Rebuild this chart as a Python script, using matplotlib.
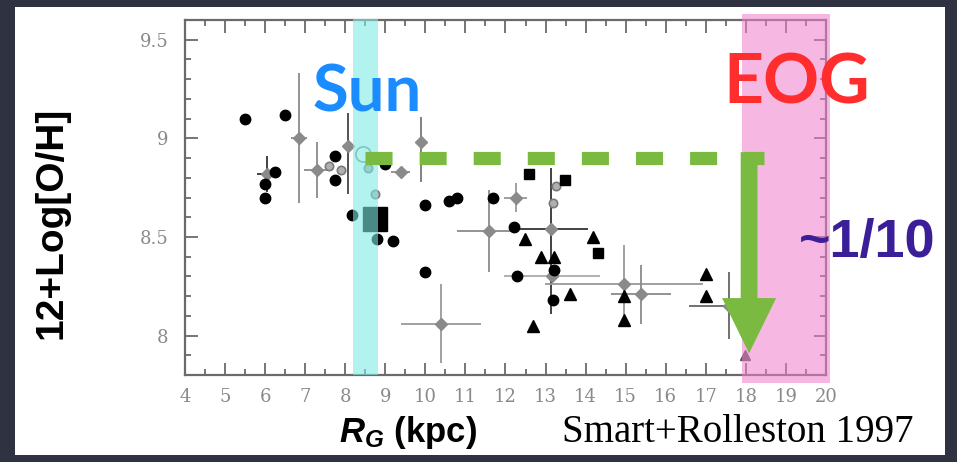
import matplotlib
matplotlib.use('Agg')
import numpy as np
from matplotlib import pyplot as plt
from matplotlib.patches import Rectangle

# galactocentric radius (kpc) and 12+log(O/H)
circ_x = [5.5, 6.5, 6.25, 6.0, 6.0, 7.75, 7.75, 8.18, 9.0, 9.2, 8.8, 10.0, 10.58, 10.78,
          10.0, 11.7, 12.2, 13.2, 12.28, 13.18]
circ_y = [9.10, 9.12, 8.83, 8.77, 8.70, 8.91, 8.79, 8.61, 8.87, 8.48, 8.49, 8.66, 8.68, 8.70,
          8.32, 8.70, 8.55, 8.33, 8.30, 8.18]

sq_x = [12.58, 13.48, 14.3]
sq_y = [8.82, 8.79, 8.42]
big_sq_x = [8.75]
big_sq_y = [8.59]

tri_x = [12.48, 14.18, 12.88, 13.2, 13.6, 12.68, 14.95, 14.95, 17.0, 17.0, 17.98]
tri_y = [8.49, 8.50, 8.40, 8.40, 8.21, 8.05, 8.20, 8.08, 8.31, 8.20, 7.90]

# points with error bars
eb_x = [6.85, 7.3, 6.05, 8.08, 9.38, 9.88, 12.25, 11.58, 13.13, 13.17, 14.95, 15.38, 17.58, 10.38]
eb_y = [9.00, 8.84, 8.82, 8.96, 8.83, 8.98, 8.70, 8.53, 8.54, 8.30, 8.26, 8.21, 8.15, 8.06]
eb_xlo = [0.2, 0.33, 0.25, 0.0, 0.23, 0.0, 0.29, 0.8, 0.93, 1.2, 1.97, 0.75, 1.0, 1.0]
eb_xhi = [0.2, 0.33, 0.25, 0.0, 0.23, 0.0, 0.29, 0.6, 0.93, 1.2, 1.97, 0.75, 0.4, 1.0]
eb_ylo = [0.33, 0.14, 0.09, 0.24, 0.0, 0.2, 0.075, 0.21, 0.43, 0.0, 0.2, 0.15, 0.17, 0.2]
eb_yhi = [0.33, 0.14, 0.09, 0.17, 0.0, 0.13, 0.075, 0.21, 0.31, 0.0, 0.2, 0.15, 0.17, 0.2]
eb_col = ['#8a8a8a', '#8a8a8a', '#333333', '#444444', '#8a8a8a', '#777777', '#999999',
          '#8a8a8a', '#333333', '#aaaaaa', '#999999', '#8a8a8a', '#666666', '#999999']

open_x = [7.6, 7.9, 8.58, 8.75, 13.25, 13.18]
open_y = [8.86, 8.84, 8.85, 8.72, 8.76, 8.67]

sun_band = (8.2, 8.82)
eog_band = (17.9, 20.1)
solar_oh = 8.9
eog_oh = 7.91

xticks = list(range(4, 21))
yticks = [8, 8.5, 9, 9.5]
ytick_labels = ['8', '8.5', '9', '9.5']

plt.rcParams['mathtext.fontset'] = 'custom'
plt.rcParams['mathtext.it'] = 'Liberation Sans:italic:bold'
plt.rcParams['mathtext.rm'] = 'Liberation Sans:bold'

fig = plt.figure(figsize=(9.57, 4.62), dpi=100)
fig.patch.set_facecolor('#2f3240')
fig.patches.append(Rectangle((15/957, 7/462), 930/957, 448/462, transform=fig.transFigure,
                             facecolor='white', edgecolor='none', zorder=-5))

ax = fig.add_axes([185/957, 87/462, 641/957, 355/462])
ax.set_zorder(1)
ax.set_facecolor('white')

for i in range(len(eb_x)):
    ax.errorbar(eb_x[i], eb_y[i], xerr=[[eb_xlo[i]], [eb_xhi[i]]], yerr=[[eb_ylo[i]], [eb_yhi[i]]],
                fmt='D', ms=6, color=eb_col[i], mfc='#8a8a8a', mec='#8a8a8a',
                elinewidth=1.3, capsize=0, zorder=2)
ax.plot(open_x, open_y, 'o', ms=6, mfc='#b0b0b0', mec='#7a7a7a', mew=1.2, ls='none', zorder=2)
ax.plot([8.45], [8.92], 'o', ms=11, mfc='none', mec='#8a8a8a', mew=1.2, zorder=2)
ax.plot(circ_x, circ_y, 'o', ms=7.5, color='black', ls='none', zorder=3)
ax.plot(sq_x, sq_y, 's', ms=7.5, color='black', ls='none', zorder=3)
ax.plot(big_sq_x, big_sq_y, 's', ms=17, color='black', ls='none', zorder=3)
ax.plot(tri_x[:-1], tri_y[:-1], '^', ms=8, color='black', ls='none', zorder=3)
ax.plot(tri_x[-1:], tri_y[-1:], '^', ms=7, color='#555555', ls='none', zorder=3)

ax.add_patch(Rectangle((sun_band[0], 7.8), sun_band[1] - sun_band[0], 9.606 - 7.8,
                       facecolor=(0.49, 0.92, 0.90), alpha=0.59, edgecolor='none',
                       clip_on=False, zorder=4))
ax.add_patch(Rectangle((eog_band[0], 7.758), eog_band[1] - eog_band[0], 9.63 - 7.758,
                       facecolor=(0.945, 0.49, 0.80), alpha=0.55, edgecolor='none',
                       clip_on=False, zorder=4))

green = '#7aba40'
ax.plot([8.5, 18.45], [solar_oh, solar_oh], color=green, lw=9.5, dashes=(2.05, 2.05),
        solid_capstyle='butt', dash_capstyle='butt', zorder=5, clip_on=False)
ax.arrow(18.08, solar_oh + 0.03, 0, eog_oh - solar_oh - 0.03, width=0.42, head_width=1.35,
         head_length=0.28, length_includes_head=True, color=green, lw=0, zorder=6)

ax.set_xlim(4, 20)
ax.set_ylim(7.8, 9.6)
ax.set_xticks(xticks)
ax.set_xticks(np.arange(4.5, 20, 1), minor=True)
ax.set_yticks(yticks)
ax.set_yticklabels(ytick_labels)
ax.set_yticks(np.arange(7.8, 9.61, 0.1), minor=True)
ax.tick_params(which='both', direction='in', top=True, right=True, color='#6a6a6a',
               width=1.3, labelcolor='#8a8a8a', labelsize=13)
ax.tick_params(which='major', length=9)
ax.tick_params(which='minor', length=4)
ax.tick_params(axis='x', pad=9)
ax.tick_params(axis='y', pad=12)
for lab in ax.get_xticklabels() + ax.get_yticklabels():
    lab.set_family('DejaVu Serif')
for sp in ax.spines.values():
    sp.set_color('#6a6a6a')
    sp.set_linewidth(1.6)

fig.text(52/957, 1 - 223/462, '12+Log[O/H]', rotation=90, ha='center', va='center',
         family='Liberation Sans', weight='bold', fontsize=28, color='black')
fig.text(408/957, 20/462, '$R_G$ (kpc)', ha='center', va='baseline',
         family='Liberation Sans', weight='bold', fontsize=25, color='black')
fig.text(562/957, 20/462, 'Smart+Rolleston 1997', ha='left', va='baseline',
         family='Liberation Serif', fontsize=28, color='black')
fig.text(367/957, 1 - 112/462, 'Sun', ha='center', va='baseline',
         family='Lato', weight='bold', fontsize=47, color='#1a8cff', zorder=10)
fig.text(797/957, 1 - 103/462, 'EOG', ha='center', va='baseline',
         family='Lato', weight='bold', fontsize=50, color='#ff2d2d', zorder=10)
fig.text(867/957, 1 - 257/462, '~1/10', ha='center', va='baseline',
         family='Liberation Sans', weight='bold', fontsize=39, color='#3a1f99', zorder=10)

plt.savefig('out.png', dpi=100, facecolor=fig.get_facecolor())
plt.close()
